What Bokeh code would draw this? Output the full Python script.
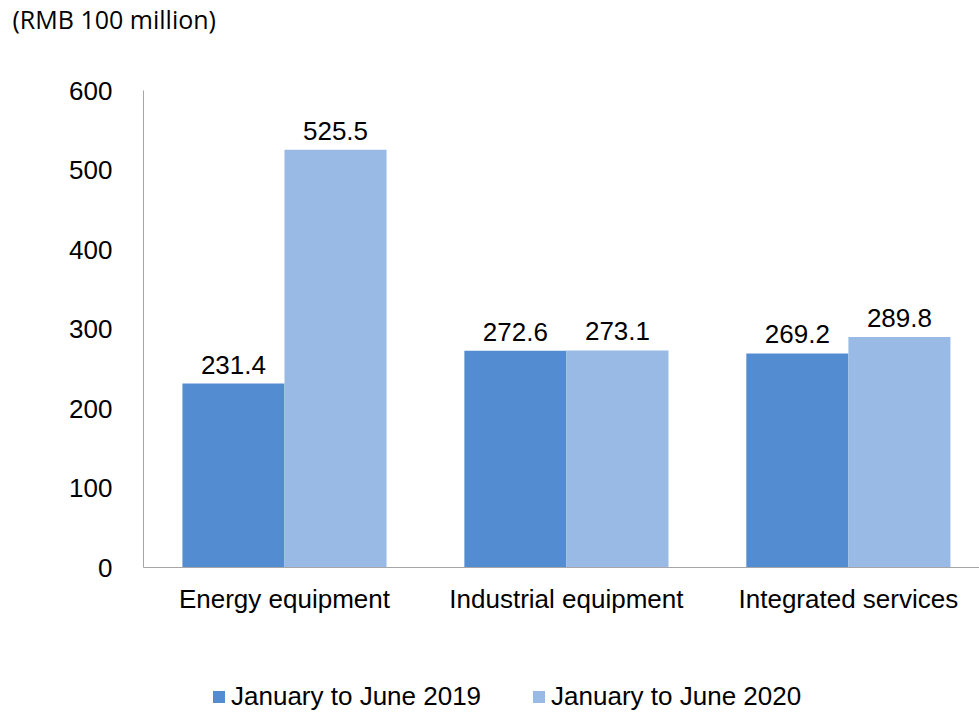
from bokeh.plotting import figure
from bokeh.layouts import column
from bokeh.models import (ColumnDataSource, Range1d, FixedTicker, Legend, LegendItem, Title)
from bokeh.transform import dodge
from bokeh.core.properties import value
from bokeh.embed import file_html
from bokeh.resources import INLINE

categories = ["Energy equipment", "Industrial equipment", "Integrated services"]
h1_2019 = [231.4, 272.6, 269.2]
h1_2020 = [525.5, 273.1, 289.8]
series_names = ["January to June 2019", "January to June 2020"]
y_ticks = [0, 100, 200, 300, 400, 500, 600]
unit_label = "(RMB 100 million)"

colors = ["#548CD2", "#99BAE4"]
FONT = "Liberation Sans"

xpos = [i + 0.5 for i in range(len(categories))]
src = ColumnDataSource(dict(
    x=xpos, cat=categories, v19=h1_2019, v20=h1_2020,
    t19=["%.1f" % v for v in h1_2019], t20=["%.1f" % v for v in h1_2020],
))

p = figure(width=979, height=672, output_backend="svg", toolbar_location=None,
           x_range=Range1d(0, 2.965), y_range=Range1d(0, 600),
           min_border_left=143, min_border_right=0, min_border_top=90, min_border_bottom=105)
p.outline_line_color = None
p.background_fill_color = "white"
p.border_fill_color = "white"
p.xgrid.visible = False
p.ygrid.visible = False

bw = 0.362
p.vbar(x=dodge("x", -bw / 2, range=p.x_range), top="v19", width=bw, source=src,
       fill_color=colors[0], line_color=None)
p.vbar(x=dodge("x", bw / 2, range=p.x_range), top="v20", width=bw, source=src,
       fill_color=colors[1], line_color=None)

for col, ycol, off in (("t19", "v19", -bw / 2), ("t20", "v20", bw / 2)):
    p.text(x=dodge("x", off, range=p.x_range), y=ycol, text=col,
           source=src, text_align="center", text_baseline="middle", y_offset=-19,
           text_font=value(FONT), text_font_size="26px", text_color="black")

# axes
p.xaxis.ticker = FixedTicker(ticks=xpos)
p.xaxis.major_label_overrides = {x: c for x, c in zip(xpos, categories)}
p.xaxis.major_tick_line_color = None
p.xaxis.minor_tick_line_color = None
p.xaxis.axis_line_color = "#A6A6A6"
p.xaxis.major_label_text_font = FONT
p.xaxis.major_label_text_font_size = "26px"
p.xaxis.major_label_text_color = "black"
p.xaxis.major_label_standoff = 10

p.yaxis.ticker = FixedTicker(ticks=y_ticks)
p.yaxis.major_tick_line_color = None
p.yaxis.minor_tick_line_color = None
p.yaxis.major_tick_out = 0
p.yaxis.major_tick_in = 0
p.yaxis.axis_line_color = "#A6A6A6"
p.yaxis.major_label_text_font = FONT
p.yaxis.major_label_text_font_size = "26px"
p.yaxis.major_label_text_color = "black"
p.yaxis.major_label_standoff = 31

# unit title (outer, top of the canvas) + spacer title nearest the frame
p.title.text = unit_label
p.title.align = "left"
p.title.offset = -131
p.title.standoff = 0
p.title.vertical_align = "top"
p.title.text_font = "Open Sans"
p.title.text_font_size = "25px"
p.title.text_font_style = "normal"
p.title.text_color = "black"
p.add_layout(Title(text="\u00a0", text_font_size="10px", standoff=40), "above")

# legend strip
lg = figure(width=979, height=40, output_backend="svg", toolbar_location=None,
            x_range=Range1d(100, 101), y_range=Range1d(1000, 1001),
            x_axis_type=None, y_axis_type=None,
            min_border=0, min_border_left=0, min_border_right=0, min_border_top=0,
            min_border_bottom=0)
lg.outline_line_color = None
lg.background_fill_color = "white"
lg.border_fill_color = "white"
lg.xgrid.visible = False
lg.ygrid.visible = False
d1 = lg.vbar(x="x", top="v19", width=0.1, source=src, fill_color=colors[0], line_color=None)
d2 = lg.vbar(x="x", top="v20", width=0.1, source=src, fill_color=colors[1], line_color=None)

legend = Legend(items=[LegendItem(label=series_names[0], renderers=[d1]),
                       LegendItem(label=series_names[1], renderers=[d2])],
                orientation="horizontal", location=(68, 0),
                glyph_width=15, glyph_height=15, label_standoff=5, spacing=50,
                padding=0, margin=0, border_line_color=None, background_fill_alpha=0,
                label_text_font=FONT, label_text_font_size="26px", label_text_color="black")
lg.add_layout(legend, "center")

layout = column(p, lg, spacing=0)
open("out.html", "w").write(file_html(layout, INLINE))
